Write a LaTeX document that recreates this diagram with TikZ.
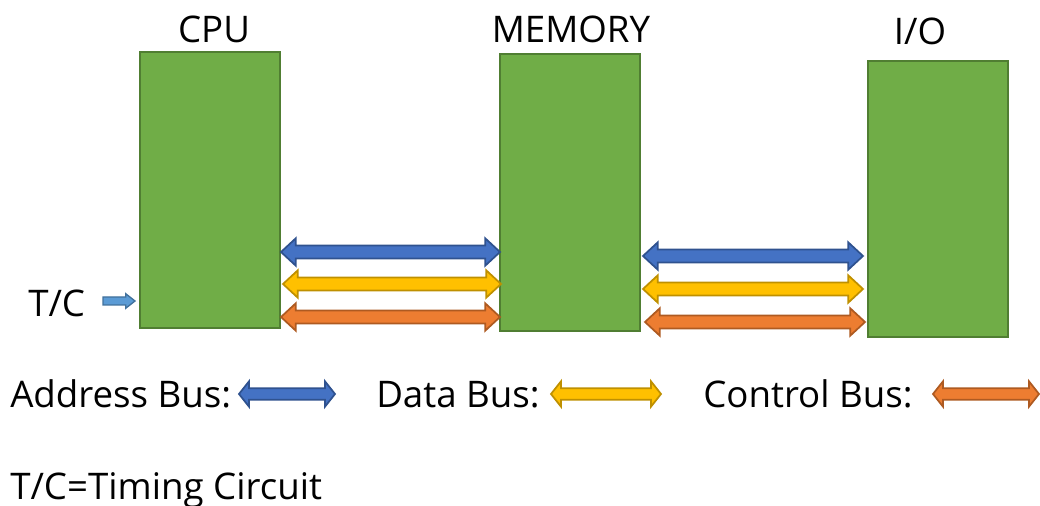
\documentclass[tikz,border=0pt]{standalone}
\usepackage{fontspec}
\setmainfont{Open Sans}
\usetikzlibrary{calc}
\definecolor{gfill}{HTML}{70AD47}\definecolor{gline}{HTML}{507E32}
\definecolor{bfill}{HTML}{4472C4}\definecolor{bline}{HTML}{2F528F}
\definecolor{yfill}{HTML}{FFC000}\definecolor{yline}{HTML}{BF9000}
\definecolor{ofill}{HTML}{ED7D31}\definecolor{oline}{HTML}{AE5A21}
\definecolor{tfill}{HTML}{5B9BD5}\definecolor{tline}{HTML}{41719C}
\tikzset{
  unitbox/.style={draw=gline,fill=gfill,line width=1.5pt},
  lbl/.style={inner sep=0pt,font=\fontsize{27.5}{32}\selectfont},
  address/.style={fill=bfill,draw=bline,line width=1.3pt,line join=miter},
  databus/.style={fill=yfill,draw=yline,line width=1.3pt,line join=miter},
  controlbus/.style={fill=ofill,draw=oline,line width=1.3pt,line join=miter},
  tcarrow/.style={fill=tfill,draw=tline,line width=1pt,line join=miter},
}
% #1 style, #2 start coord, #3 end coord, #4 head length, #5 head half, #6 shaft half
\newcommand\dblarrow[6]{%
  \path let \p1=(#2), \p2=(#3) in
    [#1] (\x1,\y1) -- (\x1+#4,\y1+#5) -- (\x1+#4,\y1+#6) -- (\x2-#4,\y1+#6)
    -- (\x2-#4,\y1+#5) -- (\x2,\y1) -- (\x2-#4,\y1-#5) -- (\x2-#4,\y1-#6)
    -- (\x1+#4,\y1-#6) -- (\x1+#4,\y1-#5) -- cycle;}
\newcommand\sglarrow[6]{%
  \path let \p1=(#2), \p2=(#3) in
    [#1] (\x1,\y1+#6) -- (\x2-#4,\y1+#6) -- (\x2-#4,\y1+#5) -- (\x2,\y1)
    -- (\x2-#4,\y1-#5) -- (\x2-#4,\y1-#6) -- (\x1,\y1-#6) -- cycle;}
\begin{document}
\begin{tikzpicture}[x=0.75pt,y=-0.75pt]
\useasboundingbox (0,0) rectangle (1040,506);
% units
\draw[unitbox] (140,52) rectangle (280,328);
\coordinate (cpuE) at (280,190);
\draw[unitbox] (500,54) rectangle (640,331);
\coordinate (memW) at (500,190);
\coordinate (memE) at (640,190);
\draw[unitbox] (868,61) rectangle (1008,337);
\coordinate (ioW) at (868,190);
% labels
\node[lbl,anchor=base] (lcpu) at (214,43) {CPU};
\node[lbl,anchor=base] (lmem) at (571,43) {MEMORY};
\node[lbl,anchor=base] (lio) at (920,45) {I/O};
% bus endpoints
\coordinate (a1) at ($(cpuE)+(1,62)$);  \coordinate (a2) at ($(memW)+(0,62)$);
\coordinate (d1) at ($(cpuE)+(3,94)$);  \coordinate (d2) at ($(memW)+(1,94)$);
\coordinate (c1) at ($(cpuE)+(1,127)$); \coordinate (c2) at ($(memW)+(0,127)$);
\coordinate (a3) at ($(memE)+(3,66)$);  \coordinate (a4) at ($(ioW)+(-5,66)$);
\coordinate (d3) at ($(memE)+(3,99)$);  \coordinate (d4) at ($(ioW)+(-5,99)$);
\coordinate (c3) at ($(memE)+(5,132)$); \coordinate (c4) at ($(ioW)+(-3,132)$);
\dblarrow{address}{a1}{a2}{11pt}{10.2pt}{4.8pt}
\dblarrow{databus}{d1}{d2}{11pt}{10.2pt}{4.8pt}
\dblarrow{controlbus}{c1}{c2}{11pt}{10.2pt}{4.8pt}
\dblarrow{address}{a3}{a4}{11pt}{10.2pt}{4.8pt}
\dblarrow{databus}{d3}{d4}{11pt}{10.2pt}{4.8pt}
\dblarrow{controlbus}{c3}{c4}{11pt}{10.2pt}{4.8pt}
% T/C
\node[lbl,anchor=base west] (tc) at (28,316) {T/C};
\coordinate (tc1) at (103,301); \coordinate (tc2) at (135,301);
\sglarrow{tcarrow}{tc1}{tc2}{7pt}{5.5pt}{3pt}
% legend
\node[lbl,anchor=base west] (la) at (10,407) {Address Bus:};
\coordinate (la1) at (239,394); \coordinate (la2) at (335,394);
\dblarrow{address}{la1}{la2}{7.5pt}{9.5pt}{4.3pt}
\node[lbl,anchor=base west] (ld) at (376,407) {Data Bus:};
\coordinate (ld1) at (551,394); \coordinate (ld2) at (661,394);
\dblarrow{databus}{ld1}{ld2}{7.5pt}{9.5pt}{4.3pt}
\node[lbl,anchor=base west] (lc) at (703,407) {Control Bus:};
\coordinate (lc1) at (933,394); \coordinate (lc2) at (1039,394);
\dblarrow{controlbus}{lc1}{lc2}{7.5pt}{9.5pt}{4.3pt}
\node[lbl,anchor=base west] (ltc) at (10,499) {T/C=Timing Circuit};
\end{tikzpicture}
\end{document}
